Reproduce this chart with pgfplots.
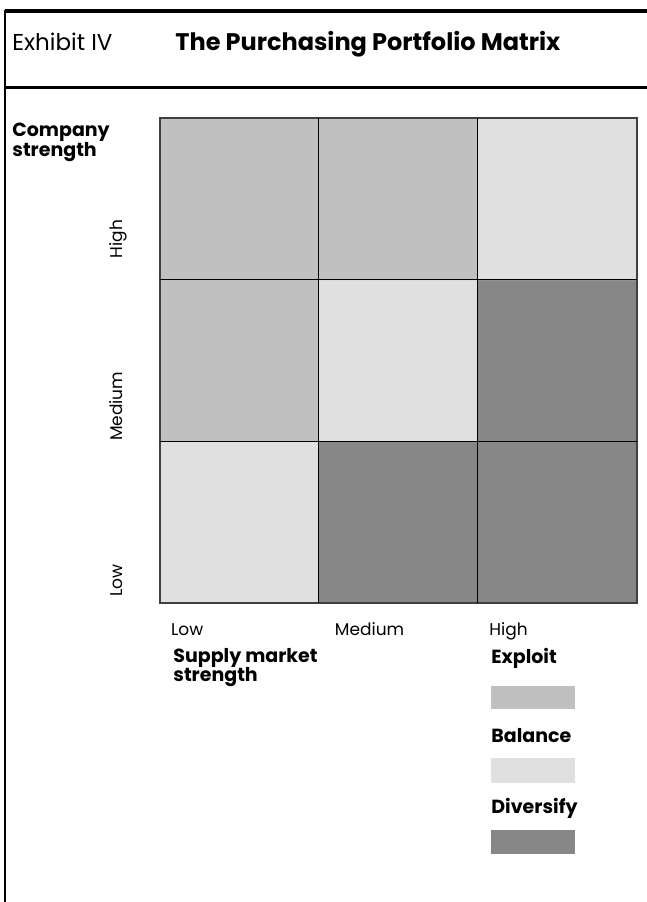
\documentclass[border=0pt]{standalone}
\usepackage{fontspec}
\setmainfont{Poppins}
\usepackage{pgfplots}
\pgfplotsset{compat=1.18}
\definecolor{exploit}{HTML}{C0C0C0}
\definecolor{balance}{HTML}{E0E0E0}
\definecolor{diversify}{HTML}{878787}
\newcommand{\lab}{\fontsize{8.5}{10}\selectfont}
\newcommand{\blab}{\fontsize{9.5}{11}\selectfont\bfseries}
\begin{document}
\begin{tikzpicture}
% page frame, in pixels of the reference (y downward)
\begin{scope}[x=0.5pt,y=-0.5pt]
\path[use as bounding box] (0,0) rectangle (647,902);
\draw[line width=1.8pt] (4.5,11) -- (647,11);
\draw[line width=1.5pt] (4.5,87.5) -- (647,87.5);
\draw[line width=1pt] (5,10) -- (5,902);
\node[anchor=base west, inner sep=0, font=\fontsize{11.5}{14}\selectfont] at (12,50) {Exhibit IV};
\node[anchor=base west, inner sep=0, font=\fontsize{12}{15}\selectfont\bfseries] at (175,50) {The Purchasing Portfolio Matrix};
\node[anchor=base west, inner sep=0, font=\blab] at (12,136) {Company};
\node[anchor=base west, inner sep=0, font=\blab] at (12,156) {strength};
\node[anchor=base west, inner sep=0, font=\blab] at (173,662) {Supply market};
\node[anchor=base west, inner sep=0, font=\blab] at (173,681) {strength};
% legend
\node[anchor=base west, inner sep=0, font=\blab] at (491,663) {Exploit};
\fill[exploit] (491,686) rectangle (575,709);
\node[anchor=base west, inner sep=0, font=\blab] at (491,742) {Balance};
\fill[balance] (491,758) rectangle (575,783);
\node[anchor=base west, inner sep=0, font=\blab] at (491,813) {Diversify};
\fill[diversify] (491,830) rectangle (575,854);
\end{scope}

\begin{axis}[
  at={(79.75pt,-301.5pt)}, anchor=south west,
  scale only axis, width=238.75pt, height=242.5pt,
  xmin=0, xmax=3, ymin=0, ymax=3,
  axis on top,
  axis line style={black!75, line width=1pt},
  colormap={portfolio}{rgb255=(192,192,192) rgb255=(224,224,224) rgb255=(135,135,135)},
  colormap access=direct,
  xtick={0.07,1.1,2.07}, xticklabels={Low,Medium,High},
  ytick={0.035,1.0,2.13}, yticklabels={Low,Medium,High},
  major tick length=0pt,
  xticklabel style={anchor=base west, inner sep=0pt, font=\lab},
  yticklabel style={rotate=90, anchor=base west, inner sep=0pt, font=\lab},
  xticklabel shift=16pt,
  yticklabel shift=18.5pt,
  extra x ticks={1,2}, extra y ticks={1,2},
  extra x tick labels={}, extra y tick labels={},
  extra tick style={grid=major, major grid style={black, line width=0.65pt}},
]
\addplot[matrix plot*, mesh/cols=3, point meta=explicit] coordinates {
  (0.5,0.5) [1] (1.5,0.5) [2] (2.5,0.5) [2]
  (0.5,1.5) [0] (1.5,1.5) [1] (2.5,1.5) [2]
  (0.5,2.5) [0] (1.5,2.5) [0] (2.5,2.5) [1]
};
\end{axis}
\end{tikzpicture}
\end{document}
